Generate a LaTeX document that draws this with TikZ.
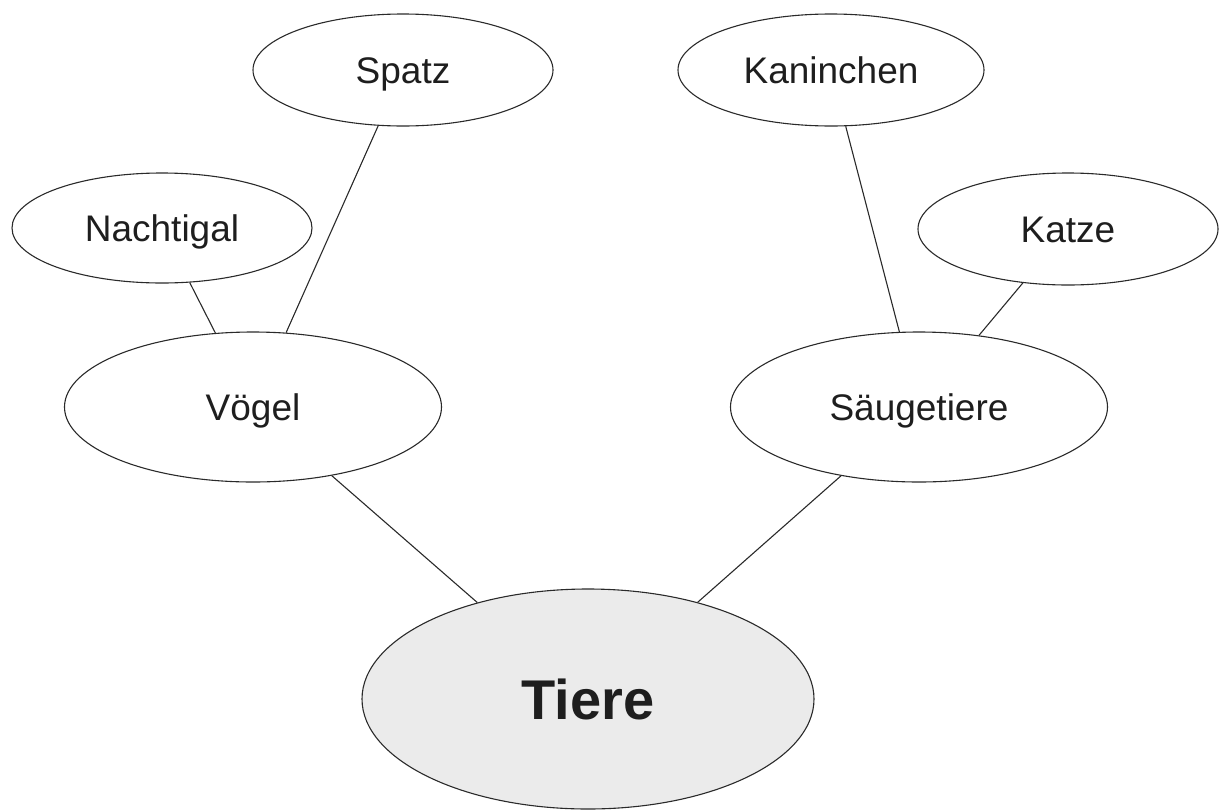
\documentclass[tikz,border=0pt]{standalone}
\usepackage{fontspec}
\setmainfont{Liberation Sans}
\usetikzlibrary{shapes.geometric}
\definecolor{inkc}{HTML}{1E1E1E}
\definecolor{linec}{HTML}{2A2A2A}
\definecolor{rootfill}{HTML}{EBEBEB}
\begin{document}
\begin{tikzpicture}[x=1pt,y=-1pt,
  leaf/.style={ellipse, draw=linec, line width=1.1pt, inner sep=0pt, text=inkc,
    font=\fontsize{37}{42}\selectfont, text height=26pt, text depth=0pt},
  rootnode/.style={ellipse, draw=linec, line width=1.1pt, inner sep=0pt, text=inkc,
    fill=rootfill, font=\bfseries\fontsize{56}{62}\selectfont, text height=41pt, text depth=0pt},
  link/.style={draw=linec, line width=1.1pt}]
\useasboundingbox (0,0) rectangle (1220,809);
\node[leaf, minimum width=300pt, minimum height=112pt] (spatz) at (403,70) {Spatz};
\node[leaf, minimum width=306pt, minimum height=112pt] (kanin) at (831,70) {Kaninchen};
\node[leaf, minimum width=300pt, minimum height=110pt] (nacht) at (162,228) {Nachtigal};
\node[leaf, minimum width=300pt, minimum height=112pt] (katze) at (1068,229) {Katze};
\node[leaf, minimum width=377pt, minimum height=150pt] (voegel) at (253,407) {Vögel};
\node[leaf, minimum width=377pt, minimum height=150pt] (saeuge) at (919,407) {Säugetiere};
\node[rootnode, minimum width=452pt, minimum height=220pt] (tiere) at (588,699) {Tiere};
\draw[link] (spatz) -- (voegel);
\draw[link] (nacht) -- (voegel);
\draw[link] (kanin) -- (saeuge);
\draw[link] (katze) -- (saeuge);
\draw[link] (voegel) -- (tiere);
\draw[link] (saeuge) -- (tiere);
\end{tikzpicture}
\end{document}
